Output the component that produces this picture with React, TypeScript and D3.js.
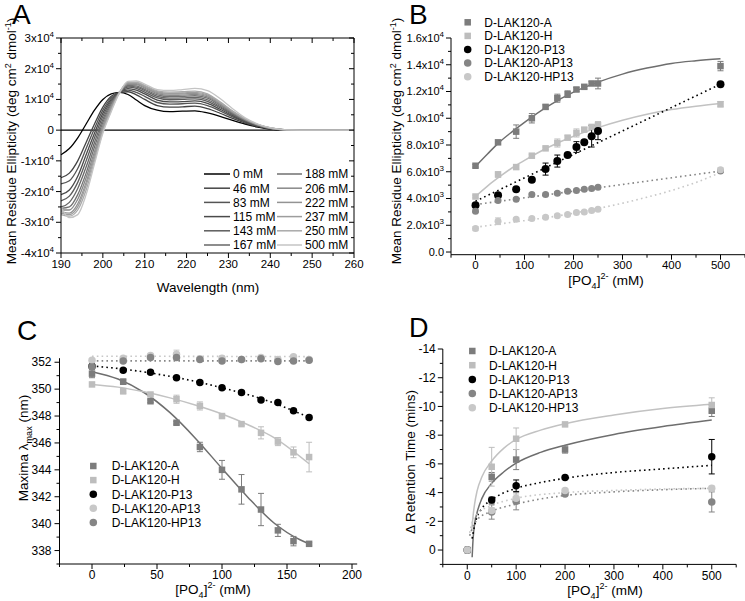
import React from 'react';
import * as d3 from 'd3';

const FONT = "'Liberation Sans', Arial, Helvetica, sans-serif";

// ---------------- Panel A: CD spectra (values in deg cm2 dmol-1 x 1e3) ----------------
const wavelengthNm = [190, 192, 194, 196, 198, 200, 202, 204, 206, 208, 210, 213, 216, 219, 222, 225, 228, 231, 234, 237, 240, 244, 250, 260];
const cdLabels = ['0 mM', '46 mM', '83 mM', '115 mM', '143 mM', '167 mM', '188 mM', '206 mM', '222 mM', '237 mM', '250 mM', '500 mM'];
const cd0mM = [-8, -6, -2.5, 2, 6.5, 10, 11.8, 12.3, 11.6, 9.8, 8, 6.5, 6, 6.2, 6.3, 5.6, 4.5, 3.2, 2, 1, 0.3, 0, 0, 0];
const cd46mM = [-15.5, -14, -10, -4, 2, 7.5, 11, 12.3, 12.5, 11.5, 10, 8, 7.5, 7.6, 7.8, 7, 5.5, 3.8, 2.3, 1.2, 0.4, 0.05, 0, 0];
const cd83mM = [-17.5, -16.5, -12.5, -6, 0.5, 6.5, 10.5, 12.3, 13, 12.3, 11, 9, 8.5, 8.6, 8.8, 8, 6.3, 4.3, 2.6, 1.3, 0.5, 0.05, 0, 0];
const cd115mM = [-21, -19.5, -15, -8, -1, 5.5, 10, 12.3, 13.5, 13, 11.8, 9.8, 9.2, 9.3, 9.5, 8.7, 6.8, 4.7, 2.8, 1.4, 0.5, 0.05, 0, 0];
const cd143mM = [-23, -21.5, -17, -10, -2.5, 4.5, 9.5, 12.3, 14, 13.6, 12.4, 10.5, 9.9, 10, 10.2, 9.4, 7.3, 5, 3, 1.5, 0.6, 0.1, 0, 0];
const cd167mM = [-25, -23.5, -19, -12, -4, 3.5, 9, 12.3, 14.3, 14, 12.9, 11, 10.4, 10.5, 10.7, 9.9, 7.7, 5.3, 3.2, 1.6, 0.6, 0.1, 0, 0];
const cd188mM = [-25.5, -25, -21, -14, -5.5, 2.5, 8.5, 12.3, 14.6, 14.4, 13.3, 11.5, 10.9, 11, 11.2, 10.4, 8.1, 5.5, 3.3, 1.7, 0.6, 0.1, 0, 0];
const cd206mM = [-26, -26, -22.5, -15.5, -7, 1.5, 8, 12.3, 14.9, 14.8, 13.7, 11.9, 11.3, 11.4, 11.6, 10.8, 8.4, 5.7, 3.4, 1.7, 0.6, 0.1, 0, 0];
const cd222mM = [-26.5, -27, -24, -17, -8, 0.8, 7.5, 12.3, 15.2, 15.1, 14, 12.2, 11.7, 11.8, 12, 11.2, 8.7, 5.9, 3.5, 1.8, 0.7, 0.1, 0, 0];
const cd237mM = [-27, -27.5, -25, -18, -9, 0.3, 7, 12.3, 15.4, 15.4, 14.3, 12.5, 12, 12.1, 12.3, 11.5, 9, 6.1, 3.6, 1.8, 0.7, 0.1, 0, 0];
const cd250mM = [-27.5, -28, -26, -19.5, -10, -0.5, 6.5, 12.3, 15.6, 15.6, 14.6, 12.8, 12.4, 12.5, 12.7, 11.8, 9.2, 6.2, 3.7, 1.9, 0.7, 0.1, 0, 0];
const cd500mM = [-25, -28.5, -27.5, -21, -11, -1, 6, 12.2, 15.9, 16, 15, 13.2, 12.9, 13.2, 13.6, 12.9, 10.3, 7, 4, 2, 0.8, 0.1, 0, 0];
const cdSeries = [cd0mM, cd46mM, cd83mM, cd115mM, cd143mM, cd167mM, cd188mM, cd206mM, cd222mM, cd237mM, cd250mM, cd500mM];
const cdColors = ['#000000', '#444444', '#555555', '#4a4a4a', '#5c5c5c', '#676767', '#717171', '#888888', '#939393', '#9d9d9d', '#a9a9a9', '#c4c4c4'];

// ---------------- Panel B: MRE vs phosphate (x1e3) ----------------
const bConc = [0, 46, 83, 115, 143, 167, 188, 206, 222, 237, 250, 500];
const bA = [6.45, 8.2, 9.0, 10.0, 10.85, 11.5, 11.8, 12.15, 12.35, 12.6, 12.6, 13.9];
const bAErr = [0.1, 0.1, 0.5, 0.35, 0.15, 0.3, 0.25, 0.15, 0.15, 0.15, 0.4, 0.35];
const bH = [4.15, 5.8, 6.35, 7.2, 7.75, 8.15, 8.55, 8.9, 9.15, 9.35, 9.5, 11.05];
const bHErr = [0.1, 0.2, 0.15, 0.1, 0.1, 0.3, 0.15, 0.3, 0.15, 0.15, 0.15, 0.2];
const bP13 = [3.5, 4.25, 4.7, 5.4, 6.2, 6.8, 7.25, 7.85, 8.2, 8.65, 9.05, 12.55];
const bP13Err = [0.15, 0.1, 0.1, 0.1, 0.45, 0.45, 0.1, 0.4, 0.1, 0.8, 0.65, 0.1];
const bAP13 = [3.05, 3.85, 3.95, 4.3, 4.3, 4.4, 4.55, 4.6, 4.7, 4.75, 4.85, 6.05];
const bAP13Err = [0.1, 0.1, 0.1, 0.1, 0.1, 0.1, 0.1, 0.1, 0.1, 0.1, 0.1, 0.1];
const bHP13 = [1.75, 2.3, 2.45, 2.5, 2.6, 2.72, 2.8, 2.95, 3.0, 3.1, 3.2, 6.15];
const bHP13Err = [0.15, 0.25, 0.1, 0.1, 0.1, 0.1, 0.1, 0.1, 0.1, 0.1, 0.1, 0.15];
const bFitAx = [0, 25, 50, 75, 100, 150, 200, 250, 300, 350, 400, 450, 500];
const bFitA = [6.4, 7.35, 8.25, 9.0, 9.7, 10.95, 11.95, 12.7, 13.3, 13.75, 14.1, 14.3, 14.45];
const bFitH = [4.15, 4.95, 5.65, 6.3, 6.85, 7.85, 8.65, 9.3, 9.85, 10.3, 10.65, 10.9, 11.1];
const bFitP13x = [0, 500];
const bFitP13 = [3.8, 12.55];
const bFitAP13 = [3.55, 6.05];
const bFitHP13x = [0, 50, 100, 150, 200, 250, 300, 350, 400, 450, 500];
const bFitHP13 = [1.85, 2.1, 2.35, 2.6, 2.9, 3.25, 3.65, 4.1, 4.6, 5.2, 5.95];

// ---------------- Panel C: emission maxima ----------------
const cConc = [0, 24, 45, 65, 83, 100, 115, 130, 143, 155, 167];
const cA = [351.15, 350.55, 349.1, 347.5, 345.7, 344.0, 342.55, 341.05, 339.5, 338.7, 338.5];
const cAErr = [0.3, 0.2, 0.1, 0.1, 0.35, 0.7, 1.1, 1.2, 0.45, 0.35, 0.1];
const cH = [350.35, 349.85, 349.6, 349.25, 348.75, 348.0, 347.4, 346.75, 346.1, 345.3, 344.95];
const cHErr = [0.1, 0.2, 0.1, 0.3, 0.3, 0.1, 0.1, 0.45, 0.3, 0.4, 1.1];
const cP13 = [351.7, 351.4, 351.25, 350.85, 350.5, 350.1, 349.75, 349.2, 349.0, 348.4, 347.9];
const cP13Err = [0.1, 0.1, 0.1, 0.1, 0.1, 0.1, 0.1, 0.1, 0.1, 0.1, 0.1];
const cAP13 = [352.15, 352.3, 352.5, 352.6, 352.25, 352.3, 352.2, 352.35, 352.2, 352.4, 352.2];
const cAP13Err = [0.1, 0.1, 0.1, 0.3, 0.1, 0.15, 0.1, 0.1, 0.1, 0.1, 0.1];
const cHP13 = [351.65, 352.1, 352.35, 352.35, 352.2, 352.1, 352.2, 352.25, 352.05, 352.1, 352.15];
const cHP13Err = [0.1, 0.1, 0.1, 0.1, 0.1, 0.1, 0.1, 0.1, 0.1, 0.1, 0.1];
const cFitAx = [0, 20, 40, 60, 80, 100, 120, 140, 160, 167];
const cFitA = [351.3, 350.75, 349.75, 348.25, 346.3, 344.1, 341.95, 340.05, 338.8, 338.5];
const cFitHx = [0, 20, 40, 60, 80, 100, 120, 140, 167];
const cFitH = [350.35, 350.15, 349.8, 349.35, 348.8, 348.15, 347.35, 346.4, 344.45];
const cFitP13x = [0, 25, 50, 75, 100, 130, 167];
const cFitP13 = [351.72, 351.48, 351.12, 350.67, 350.1, 349.3, 347.9];
const cFitLinx = [0, 167];
const cFitAP13 = [352.45, 352.42];
const cFitHP13 = [352.1, 352.1];

// ---------------- Panel D: retention time shift ----------------
const dConc = [0, 50, 100, 200, 500];
const dA = [0, -5.1, -6.3, -7.0, -9.7];
const dAErr = [0, 0.3, 0.7, 0.25, 0.4];
const dH = [0, -5.8, -7.75, -8.75, -10.1];
const dHErr = [0, 1.35, 0.75, 0.1, 0.5];
const dP13 = [0, -3.48, -4.48, -5.06, -6.5];
const dP13Err = [0, 0.2, 0.4, 0.1, 1.2];
const dAP13 = [0, -2.65, -3.4, -3.9, -3.35];
const dAP13Err = [0, 0.5, 0.6, 0.1, 0.7];
const dHP13 = [0, -2.75, -3.6, -4.15, -4.3];
const dHP13Err = [0, 0.2, 0.3, 0.1, 0.15];
const dFitAx = [10, 12, 15, 20, 30, 50, 75, 100, 150, 200, 300, 400, 500];
const dFitA = [0.5, -0.8, -1.8, -2.6, -3.6, -4.65, -5.45, -6.05, -6.8, -7.3, -8.05, -8.6, -9.05];
const dFitHx = [9, 12, 15, 20, 30, 50, 75, 100, 150, 200, 300, 400, 500];
const dFitH = [-1.3, -2.4, -3.2, -4.1, -5.1, -6.2, -7.1, -7.7, -8.35, -8.8, -9.4, -9.85, -10.15];
const dFitP13x = [10, 15, 20, 30, 50, 100, 150, 200, 300, 400, 500];
const dFitP13 = [-0.8, -1.7, -2.3, -2.9, -3.5, -4.3, -4.7, -5.0, -5.4, -5.65, -5.9];
const dFitGx = [5, 10, 20, 50, 100, 200, 300, 400, 500];
const dFitAP13 = [-1.0, -1.5, -2.1, -2.7, -3.2, -3.8, -4.05, -4.2, -4.3];
const dFitHP13 = [-1.2, -1.9, -2.5, -3.1, -3.6, -4.0, -4.15, -4.25, -4.3];

const seriesNames = ['D-LAK120-A', 'D-LAK120-H', 'D-LAK120-P13', 'D-LAK120-AP13', 'D-LAK120-HP13'];

type Lin = d3.ScaleLinear<number, number>;

function Axis({ orient, scale, pos, major, minor, inward = false, label, fontSize = 12, offset = 7 }:
  { orient: 'left' | 'right' | 'top' | 'bottom'; scale: Lin; pos: number; major: number[]; minor: number[]; inward?: boolean; label?: (v: number) => React.ReactNode; fontSize?: number; offset?: number }) {
  const vertical = orient === 'left' || orient === 'right';
  const outward = orient === 'left' || orient === 'top' ? -1 : 1;
  const s = inward ? -outward : outward;
  const r = scale.range();
  const line = vertical
    ? <line x1={pos} x2={pos} y1={r[0]} y2={r[1]} stroke="#000" />
    : <line x1={r[0]} x2={r[1]} y1={pos} y2={pos} stroke="#000" />;
  const tick = (v: number, len: number, k: string) => {
    const p = scale(v);
    return vertical
      ? <line key={k} x1={pos} x2={pos + s * len} y1={p} y2={p} stroke="#000" />
      : <line key={k} y1={pos} y2={pos + s * len} x1={p} x2={p} stroke="#000" />;
  };
  return (
    <g>
      {line}
      {minor.map((v, i) => tick(v, 3, 'mi' + i))}
      {major.map((v, i) => tick(v, 5, 'ma' + i))}
      {label && major.map((v, i) => vertical
        ? <text key={'l' + i} x={orient === 'left' ? pos - offset : pos + offset} y={scale(v)} dy="0.35em" textAnchor={orient === 'left' ? 'end' : 'start'} fontSize={fontSize} fill="#000">{label(v)}</text>
        : <text key={'l' + i} x={scale(v)} y={pos + offset} dy="0.71em" textAnchor="middle" fontSize={fontSize} fill="#000">{label(v)}</text>)}
    </g>
  );
}

const range = (a: number, b: number, step: number) => d3.range(a, b + step / 2, step);

function Marker({ shape, x, y, color, size }: { shape: 'square' | 'circle'; x: number; y: number; color: string; size: number }) {
  return shape === 'square'
    ? <rect x={x - size / 2} y={y - size / 2} width={size} height={size} fill={color} />
    : <circle cx={x} cy={y} r={size / 2} fill={color} />;
}

function ErrBar({ x, y1, y2, color }: { x: number; y1: number; y2: number; color: string }) {
  return (
    <g stroke={color} strokeWidth={1}>
      <line x1={x} x2={x} y1={y1} y2={y2} />
      <line x1={x - 3} x2={x + 3} y1={y1} y2={y1} />
      <line x1={x - 3} x2={x + 3} y1={y2} y2={y2} />
    </g>
  );
}

const PO4Title = ({ x, y }: { x: number; y: number }) => (
  <text x={x} y={y} textAnchor="middle" fontSize={13.5}>
    [PO<tspan dy={4} fontSize={9}>4</tspan><tspan dy={-4}>]</tspan><tspan dy={-6} fontSize={9}>2-</tspan><tspan dy={6}> (mM)</tspan>
  </text>
);

type Series = { shape: 'square' | 'circle'; color: string; lineColor: string; dotted: boolean; xs: number[]; ys: number[]; err: number[]; fx: number[]; fy: number[] };

function Scatter({ series, x, y, size }: { series: Series[]; x: Lin; y: Lin; size: (s: Series) => number }) {
  const path = (s: Series) => d3.line<number>().x((_, i) => x(s.fx[i])).y(v => y(v)).curve(d3.curveMonotoneX)(s.fy) || '';
  return (
    <g>
      {series.map((s, k) => (
        <path key={'f' + k} d={path(s)} fill="none" stroke={s.lineColor} strokeWidth={s.dotted ? 1.6 : 1.5}
          strokeDasharray={s.dotted ? '1.6 3.2' : undefined} />
      ))}
      {series.map((s, k) => (
        <g key={'e' + k}>
          {s.xs.map((xv, i) => s.err[i] > 0.0001 ? <ErrBar key={i} x={x(xv)} y1={y(s.ys[i] - s.err[i])} y2={y(s.ys[i] + s.err[i])} color={s.color} /> : null)}
        </g>
      ))}
      {series.map((s, k) => (
        <g key={'m' + k}>
          {s.xs.map((xv, i) => <Marker key={i} shape={s.shape} x={x(xv)} y={y(s.ys[i])} color={s.color} size={size(s)} />)}
        </g>
      ))}
    </g>
  );
}

function Legend({ series, x, tx, y0, dy }: { series: Series[]; x: number; tx: number; y0: number; dy: number }) {
  return (
    <g>
      {series.map((s, i) => (
        <g key={i}>
          <Marker shape={s.shape} x={x} y={y0 + i * dy} color={s.color} size={s.shape === 'square' ? 6.5 : 7.5} />
          <text x={tx} y={y0 + i * dy} dy="0.36em" fontSize={12}>{seriesNames[i]}</text>
        </g>
      ))}
    </g>
  );
}

const DARK = '#7c7c7c';
const DARKLINE = '#6e6e6e';
const LIGHT = '#bdbdbd';
const LIGHTLINE = '#c2c2c2';
const MID = '#858585';
const PALE = '#c8c8c8';

function PanelA() {
  const x = d3.scaleLinear().domain([190, 260]).range([61, 354]);
  const y = d3.scaleLinear().domain([-40, 30]).range([253, 38]);
  const line = d3.line<number>().x((_, i) => x(wavelengthNm[i])).y(v => y(v)).curve(d3.curveMonotoneX);
  const sci = (v: number) => v === 0 ? '0' : <>{`${v / 10}x10`}<tspan dy={-5} fontSize={8}>4</tspan></>;
  const yMajor = range(-40, 30, 10);
  const yMinor = range(-35, 25, 10);
  const xMajor = range(190, 260, 10);
  const xMinor = range(195, 255, 10);
  const legRows = [0, 1, 2, 3, 4, 5];
  return (
    <g>
      <text x={12} y={24} fontSize={28}>A</text>
      <line x1={x(190)} x2={x(260)} y1={y(0)} y2={y(0)} stroke="#000" strokeWidth={1.2} />
      {cdSeries.map((s, i) => <path key={i} d={line(s) || ''} fill="none" stroke={cdColors[i]} strokeWidth={1.3} />)}
      <Axis orient="left" scale={y} pos={61} major={yMajor} minor={yMinor} label={sci} fontSize={11.5} offset={7} />
      <Axis orient="right" scale={y} pos={354} major={yMajor} minor={yMinor} inward />
      <Axis orient="bottom" scale={x} pos={253} major={xMajor} minor={xMinor} label={v => String(v)} fontSize={11.5} offset={7} />
      <Axis orient="top" scale={x} pos={38} major={xMajor} minor={xMinor} inward />
      {legRows.map(r => (
        <g key={r}>
          <line x1={204} x2={230} y1={174 + r * 14.2} y2={174 + r * 14.2} stroke={cdColors[r]} strokeWidth={1.5} />
          <text x={233} y={174 + r * 14.2} dy="0.36em" fontSize={12}>{cdLabels[r]}</text>
          <line x1={277} x2={302} y1={174 + r * 14.2} y2={174 + r * 14.2} stroke={cdColors[r + 6]} strokeWidth={1.5} />
          <text x={305} y={174 + r * 14.2} dy="0.36em" fontSize={12}>{cdLabels[r + 6]}</text>
        </g>
      ))}
      <text x={208} y={292} textAnchor="middle" fontSize={13.5}>Wavelength (nm)</text>
      <text transform="translate(16,141) rotate(-90)" textAnchor="middle" fontSize={13.5}>
        Mean Residue Ellipticity (deg cm<tspan dy={-5} fontSize={9}>2</tspan><tspan dy={5}> dmol</tspan><tspan dy={-5} fontSize={9}>-1</tspan><tspan dy={5}>)</tspan>
      </text>
    </g>
  );
}

function PanelB() {
  const x = d3.scaleLinear().domain([-50, 550]).range([451, 745]);
  const y = d3.scaleLinear().domain([-0.2, 16]).range([254.7, 38]);
  const series: Series[] = [
    { shape: 'square', color: DARK, lineColor: DARKLINE, dotted: false, xs: bConc, ys: bA, err: bAErr, fx: bFitAx, fy: bFitA },
    { shape: 'square', color: LIGHT, lineColor: LIGHTLINE, dotted: false, xs: bConc, ys: bH, err: bHErr, fx: bFitAx, fy: bFitH },
    { shape: 'circle', color: '#000', lineColor: '#000', dotted: true, xs: bConc, ys: bP13, err: bP13Err, fx: bFitP13x, fy: bFitP13 },
    { shape: 'circle', color: MID, lineColor: MID, dotted: true, xs: bConc, ys: bAP13, err: bAP13Err, fx: bFitP13x, fy: bFitAP13 },
    { shape: 'circle', color: PALE, lineColor: PALE, dotted: true, xs: bConc, ys: bHP13, err: bHP13Err, fx: bFitHP13x, fy: bFitHP13 },
  ];
  const lab = (v: number) => v === 0 ? '0.0' : v < 10
    ? <>{`${v.toFixed(1)}x10`}<tspan dy={-5} fontSize={8}>3</tspan></>
    : <>{`${(v / 10).toFixed(1)}x10`}<tspan dy={-5} fontSize={8}>4</tspan></>;
  return (
    <g>
      <text x={409} y={24} fontSize={28}>B</text>
      <Scatter series={series} x={x} y={y} size={s => s.shape === 'square' ? 6.5 : s.color === '#000' ? 8 : 7} />
      <Axis orient="left" scale={y} pos={451} major={range(0, 16, 2)} minor={range(1, 15, 2)} label={lab} fontSize={11} offset={7} />
      <Axis orient="bottom" scale={x} pos={254.7} major={range(0, 500, 100)} minor={range(-50, 550, 100)} label={v => String(v)} fontSize={11.5} offset={6} />
      <Legend series={series} x={467.7} tx={484.3} y0={22.3} dy={13.6} />
      <PO4Title x={606} y={285} />
      <text transform="translate(401,141) rotate(-90)" textAnchor="middle" fontSize={13.5}>
        Mean Residue Ellipticity (deg cm<tspan dy={-5} fontSize={9}>2</tspan><tspan dy={5}> dmol</tspan><tspan dy={-5} fontSize={9}>-1</tspan><tspan dy={5}>)</tspan>
      </text>
    </g>
  );
}

function PanelC() {
  const x = d3.scaleLinear().domain([-25, 204]).range([59.5, 357.2]);
  const y = d3.scaleLinear().domain([337, 352.3]).range([564, 358.2]);
  const series: Series[] = [
    { shape: 'square', color: DARK, lineColor: DARKLINE, dotted: false, xs: cConc, ys: cA, err: cAErr, fx: cFitAx, fy: cFitA },
    { shape: 'square', color: LIGHT, lineColor: LIGHTLINE, dotted: false, xs: cConc, ys: cH, err: cHErr, fx: cFitHx, fy: cFitH },
    { shape: 'circle', color: '#000', lineColor: '#000', dotted: true, xs: cConc, ys: cP13, err: cP13Err, fx: cFitP13x, fy: cFitP13 },
    { shape: 'circle', color: PALE, lineColor: PALE, dotted: true, xs: cConc, ys: cAP13, err: cAP13Err, fx: cFitLinx, fy: cFitAP13 },
    { shape: 'circle', color: MID, lineColor: MID, dotted: true, xs: cConc, ys: cHP13, err: cHP13Err, fx: cFitLinx, fy: cFitHP13 },
  ];
  return (
    <g>
      <text x={17} y={340} fontSize={28}>C</text>
      <Scatter series={series} x={x} y={y} size={s => s.shape === 'square' ? 6.5 : 7.5} />
      <Axis orient="left" scale={y} pos={59.5} major={range(338, 352, 2)} minor={range(337, 351, 2)} label={v => String(v)} fontSize={12} offset={8} />
      <Axis orient="bottom" scale={x} pos={564} major={range(0, 200, 50)} minor={range(-25, 175, 50)} label={v => String(v)} fontSize={12} offset={6} />
      <Legend series={series} x={93.3} tx={111.7} y0={466} dy={14.1} />
      <PO4Title x={213} y={594} />
      <text transform="translate(28,448) rotate(-90)" textAnchor="middle" fontSize={13.5}>
        Maxima λ<tspan dy={4} fontSize={9}>max</tspan><tspan dy={-4}> (nm)</tspan>
      </text>
    </g>
  );
}

function PanelD() {
  const x = d3.scaleLinear().domain([-50, 550]).range([442.8, 736.2]);
  const y = d3.scaleLinear().domain([1, -14]).range([564.4, 349]);
  const series: Series[] = [
    { shape: 'square', color: DARK, lineColor: DARKLINE, dotted: false, xs: dConc, ys: dA, err: dAErr, fx: dFitAx, fy: dFitA },
    { shape: 'square', color: LIGHT, lineColor: LIGHTLINE, dotted: false, xs: dConc, ys: dH, err: dHErr, fx: dFitHx, fy: dFitH },
    { shape: 'circle', color: '#000', lineColor: '#000', dotted: true, xs: dConc, ys: dP13, err: dP13Err, fx: dFitP13x, fy: dFitP13 },
    { shape: 'circle', color: MID, lineColor: MID, dotted: true, xs: dConc, ys: dAP13, err: dAP13Err, fx: dFitGx, fy: dFitAP13 },
    { shape: 'circle', color: PALE, lineColor: PALE, dotted: true, xs: dConc, ys: dHP13, err: dHP13Err, fx: dFitGx, fy: dFitHP13 },
  ];
  return (
    <g>
      <text x={409} y={337} fontSize={27}>D</text>
      <Scatter series={series} x={x} y={y} size={s => s.shape === 'square' ? 6.5 : 7.5} />
      <Axis orient="left" scale={y} pos={442.8} major={range(-14, 0, 2)} minor={range(-13, 1, 2)} label={v => String(v)} fontSize={12} offset={7} />
      <Axis orient="bottom" scale={x} pos={564.4} major={range(0, 500, 100)} minor={range(-50, 550, 100)} label={v => String(v)} fontSize={12} offset={7} />
      <Legend series={series} x={472.3} tx={489} y0={351} dy={14.2} />
      <PO4Title x={605} y={595} />
      <text transform="translate(415,462) rotate(-90)" textAnchor="middle" fontSize={13.5}>Δ Retention Time (mins)</text>
    </g>
  );
}

export default function App() {
  return (
    <svg width={745} height={601} viewBox="0 0 745 601" style={{ position: 'absolute', left: 0, top: 0, background: '#fff' }}
      fontFamily={FONT}>
      <rect width={745} height={601} fill="#fff" />
      <PanelA />
      <PanelB />
      <PanelC />
      <PanelD />
    </svg>
  );
}
